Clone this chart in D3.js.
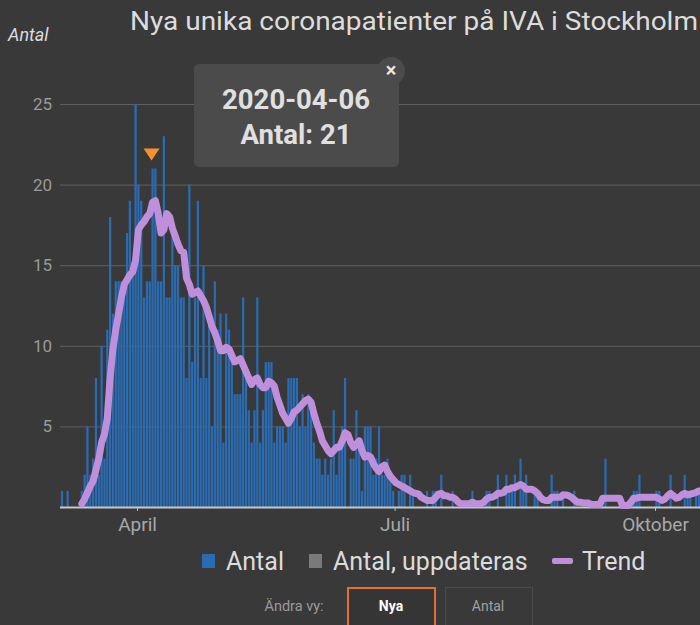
<!DOCTYPE html>
<html>
<head>
<meta charset="utf-8">
<script src="https://cdn.jsdelivr.net/npm/d3@7"></script>
<style>
  body { margin: 0; background: #393939; overflow: hidden; }
  svg { display: block; font-family: Roboto, "Noto Sans", sans-serif; }
</style>
</head>
<body>
<div id="chart"></div>
<script>
const svgWidth = 700;
const svgHeight = 625;

// daily values, first day 2020-03-05
const antalStart = "2020-03-05";
const antal = [
  1, 0, 1, 0, 0, 0, 0, 1, 2, 5, 2, 3, 8, 2, 10, 3, 11, 18, 12, 14, 14, 14, 13, 17, 19, 15, 25, // Mar 5-31
  20, 19, 13, 14, 14, 21, 21, 14, 14, 23, 13, 13, 18, 15, 15, 13, 13, 8, 20, 9, 13, 19, 8, 15, 8, 12, 5, 14, 11, 12, // Apr
  4, 12, 11, 9, 7, 7, 7, 13, 8, 6, 4, 6, 13, 4, 6, 9, 9, 9, 4, 5, 5, 5, 4, 8, 8, 8, 8, 5, 7, 5, 7, // May
  6, 4, 3, 3, 2, 3, 2, 3, 6, 2, 4, 5, 8, 0, 3, 3, 6, 4, 1, 5, 5, 5, 2, 3, 5, 2, 2, 3, 2, 1, // Jun
  0, 1, 2, 2, 0, 2, 1, 0, 0, 0, 0, 1, 0, 1, 1, 0, 2, 0, 0, 0, 1, 0, 0, 0, 0, 0, 0, 1, 0, 0, 0, // Jul
  0, 1, 1, 0, 0, 2, 0, 0, 2, 1, 1, 2, 0, 3, 1, 2, 0, 0, 1, 1, 0, 0, 0, 0, 2, 1, 1, 0, 1, 0, 0, // Aug
  0, 1, 0, 0, 0, 0, 0, 0, 0, 0, 0, 0, 3, 0, 0, 0, 0, 0, 0, 0, 0, 0, 1, 1, 2, 0, 0, 0, 0, 0, // Sep
  1, 1, 0, 0, 0, 2, 0, 0, 0, 0, 2, 1, 1, 0, 1, 1 // Oct 1-16
];

// trend line, first day 2020-03-12
const trendStart = "2020-03-12";
const trend = [
  0.2, 0.5, 0.9, 1.3, 1.6, 2.3, 3.0, 4.0, 4.5, 5.5, 8.0, 9.8, 11.0, 12.0, 13.0, 13.8, 14.1, 14.4, 14.6, 15.3, // Mar 12-31
  17.2, 17.5, 17.7, 18.0, 18.2, 18.9, 19.0, 18.2, 17.0, 17.2, 18.2, 18.0, 17.3, 16.8, 16.3, 15.9, 15.8, 14.2, 13.8, 13.2,
  13.3, 13.4, 13.1, 12.8, 12.4, 11.8, 11.2, 10.8, 10.3, 9.7, // Apr
  9.7, 9.9, 9.8, 9.4, 9.0, 9.1, 9.2, 8.8, 8.4, 8.0, 7.6, 7.9, 8.0, 7.6, 7.4, 7.4, 7.8, 7.7, 7.5, 6.8,
  6.3, 5.8, 5.5, 5.2, 5.5, 5.9, 6.0, 6.2, 6.4, 6.6, 6.7, // May
  6.5, 5.8, 5.2, 4.7, 4.1, 3.8, 3.5, 3.3, 3.5, 3.7, 3.7, 4.1, 4.6, 4.5, 4.0, 3.7, 3.9, 4.1, 3.5, 3.1,
  3.2, 3.1, 2.7, 2.4, 2.2, 2.5, 2.6, 2.2, 1.9, 1.7, // Jun
  1.5, 1.4, 1.3, 1.2, 1.1, 1.0, 0.9, 0.85, 0.8, 0.6, 0.5, 0.4, 0.4, 0.4, 0.6, 0.8, 0.85, 0.7, 0.7, 0.6,
  0.6, 0.5, 0.3, 0.2, 0.2, 0.2, 0.2, 0.3, 0.2, 0.2, 0.2, // Jul
  0.3, 0.5, 0.6, 0.6, 0.7, 0.85, 0.85, 0.9, 1.1, 1.1, 1.2, 1.2, 1.3, 1.4, 1.3, 1.1, 1.1, 1.1, 1.0, 0.85,
  0.6, 0.45, 0.4, 0.4, 0.6, 0.6, 0.6, 0.6, 0.75, 0.75, 0.7, // Aug
  0.6, 0.45, 0.3, 0.3, 0.25, 0.25, 0.25, 0.15, 0.15, 0.15, 0.15, 0.55, 0.55, 0.55, 0.55, 0.55, 0.55, 0.55, 0.1, 0.1,
  0.1, 0.3, 0.55, 0.55, 0.6, 0.6, 0.6, 0.6, 0.6, 0.6, // Sep
  0.6, 0.5, 0.4, 0.5, 0.7, 0.85, 0.7, 0.55, 0.6, 0.75, 0.85, 0.75, 0.8, 0.85, 0.9, 1.0, 1.0, 1.0 // Oct 1-18
];

const yTicks = [5, 10, 15, 20, 25];
const xTickDates = ["2020-04-01", "2020-07-01", "2020-10-01"];
const xTickLabels = ["April", "Juli", "Oktober"];

const legendItems = ["Antal", "Antal, uppdateras", "Trend"];
const selected = { date: "2020-04-06", value: 21 };

const parse = d3.timeParse("%Y-%m-%d");
const addDays = (s, i) => d3.timeHour.offset(d3.timeDay.offset(parse(s), i), 12);

const barData = antal.map((v, i) => ({ date: addDays(antalStart, i), value: v }));
const trendData = trend.map((v, i) => ({ date: addDays(trendStart, i), value: v }));

const svg = d3.select("#chart")
  .append("svg")
  .attr("width", svgWidth)
  .attr("height", svgHeight);

const x = d3.scaleTime()
  .domain([parse("2020-04-01"), parse("2020-10-01")])
  .range([137, 655]);

const y = d3.scaleLinear()
  .domain([0, 25])
  .range([507, 104]);

const dayW = x(parse("2020-04-02")) - x(parse("2020-04-01"));

// title + y label
svg.append("text")
  .attr("x", 130)
  .attr("y", 30)
  .attr("fill", "#dcdcdc")
  .attr("font-size", 25)
  .attr("textLength", 568)
  .attr("lengthAdjust", "spacingAndGlyphs")
  .text("Nya unika coronapatienter på IVA i Stockholm");

svg.append("text")
  .attr("x", 8)
  .attr("y", 41)
  .attr("fill", "#dcdcdc")
  .attr("font-size", 18)
  .attr("font-style", "italic")
  .text("Antal");

// y grid
const yAxis = svg.append("g")
  .attr("transform", "translate(60,0)")
  .call(d3.axisLeft(y).tickValues(yTicks).tickSize(-(svgWidth - 60)).tickPadding(8));
yAxis.select(".domain").remove();
yAxis.selectAll(".tick line").attr("stroke", "#5f5f5f").attr("stroke-width", 1);
yAxis.selectAll(".tick text")
  .attr("fill", "#9a9a9a")
  .attr("font-size", 17)
  .attr("font-family", "Roboto, sans-serif");

// bars
svg.append("g")
  .selectAll("rect")
  .data(barData.filter(d => d.value > 0))
  .enter()
  .append("rect")
  .attr("x", d => x(d.date) - dayW / 2 + 0.3)
  .attr("width", dayW - 0.6)
  .attr("y", d => y(d.value))
  .attr("height", d => y(0) - y(d.value))
  .attr("fill", "#2a6cb3");

// x axis
const xAxis = svg.append("g")
  .attr("transform", `translate(0,${y(0)})`)
  .call(d3.axisBottom(x)
    .tickValues(xTickDates.map(parse))
    .tickFormat((d, i) => xTickLabels[i])
    .tickSize(4)
    .tickPadding(7));
xAxis.select(".domain").remove();
xAxis.selectAll(".tick line").attr("stroke", "#bdbdbd");
xAxis.selectAll(".tick text")
  .attr("fill", "#a8a8a8")
  .attr("font-size", 19)
  .attr("font-family", "Roboto, sans-serif");

svg.append("line")
  .attr("x1", 60)
  .attr("x2", svgWidth)
  .attr("y1", y(0) + 0.5)
  .attr("y2", y(0) + 0.5)
  .attr("stroke", "#c8c8c8")
  .attr("stroke-width", 2);

// trend
const line = d3.line()
  .x(d => x(d.date))
  .y(d => y(d.value));

svg.append("path")
  .datum(trendData)
  .attr("d", line)
  .attr("fill", "none")
  .attr("stroke", "#c08fdc")
  .attr("stroke-width", 7)
  .attr("stroke-linejoin", "round")
  .attr("stroke-linecap", "round");

// marker above the selected bar
const selDate = d3.timeHour.offset(parse(selected.date), 12);
const mx = x(selDate) - 1;
const my = y(selected.value) - 8;
svg.append("path")
  .attr("d", `M${mx - 8},${my - 12} L${mx + 8},${my - 12} L${mx},${my} Z`)
  .attr("fill", "#f5922f");

// tooltip
const tip = svg.append("g").attr("transform", "translate(194,64)");
tip.append("rect")
  .attr("width", 205)
  .attr("height", 103)
  .attr("rx", 5)
  .attr("fill", "#4b4b4b");
tip.append("text")
  .attr("x", 102)
  .attr("y", 45)
  .attr("text-anchor", "middle")
  .attr("fill", "#e0e0e0")
  .attr("font-size", 27.5)
  .attr("font-weight", "bold")
  .text(selected.date);
tip.append("text")
  .attr("x", 102)
  .attr("y", 80)
  .attr("text-anchor", "middle")
  .attr("fill", "#e0e0e0")
  .attr("font-size", 27.5)
  .attr("font-weight", "bold")
  .text("Antal: " + selected.value);
tip.append("circle")
  .attr("cx", 197)
  .attr("cy", 7)
  .attr("r", 14)
  .attr("fill", "#4b4b4b");
tip.append("text")
  .attr("x", 197)
  .attr("y", 13)
  .attr("text-anchor", "middle")
  .attr("fill", "#e8e8e8")
  .attr("font-size", 20)
  .attr("font-weight", "bold")
  .text("×");

// legend
const legend = svg.append("g").attr("transform", "translate(0,561)");
const legendX = [202, 309, 552];
legendItems.forEach((name, i) => {
  if (i < 2) {
    legend.append("rect")
      .attr("x", legendX[i])
      .attr("y", -7)
      .attr("width", 13)
      .attr("height", 14)
      .attr("fill", i === 0 ? "#2a6cb3" : "#7a7a7a");
  } else {
    legend.append("rect")
      .attr("x", legendX[i])
      .attr("y", -3)
      .attr("width", 21)
      .attr("height", 6)
      .attr("rx", 2)
      .attr("fill", "#c08fdc");
  }
  legend.append("text")
    .attr("x", legendX[i] + (i < 2 ? 24 : 30))
    .attr("y", 8.5)
    .attr("fill", "#dcdcdc")
    .attr("font-size", 25)
    .text(name);
});

// view buttons
svg.append("text")
  .attr("x", 294)
  .attr("y", 611)
  .attr("text-anchor", "middle")
  .attr("fill", "#9a9a9a")
  .attr("font-size", 14.5)
  .text("Ändra vy:");

svg.append("rect")
  .attr("x", 348)
  .attr("y", 588)
  .attr("width", 87)
  .attr("height", 40)
  .attr("fill", "#353535")
  .attr("stroke", "#e46f35")
  .attr("stroke-width", 2);
svg.append("text")
  .attr("x", 391)
  .attr("y", 611)
  .attr("text-anchor", "middle")
  .attr("fill", "#ffffff")
  .attr("font-size", 14)
  .attr("font-weight", "bold")
  .text("Nya");

svg.append("rect")
  .attr("x", 445.5)
  .attr("y", 587.5)
  .attr("width", 87)
  .attr("height", 40)
  .attr("fill", "#393939")
  .attr("stroke", "#4a4a4a")
  .attr("stroke-width", 1);
svg.append("text")
  .attr("x", 488)
  .attr("y", 611)
  .attr("text-anchor", "middle")
  .attr("fill", "#a0a0a0")
  .attr("font-size", 14)
  .text("Antal");
</script>
</body>
</html>
